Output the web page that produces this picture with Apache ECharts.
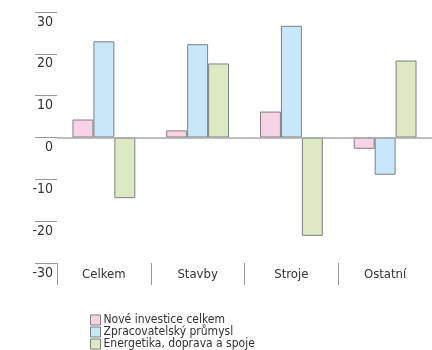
<!DOCTYPE html>
<html>
<head>
<meta charset="utf-8">
<script src="https://cdn.jsdelivr.net/npm/echarts@6/dist/echarts.min.js"></script>
<style>
  html, body { margin: 0; padding: 0; background: #fff; }
  #chart { width: 432px; height: 350px; }
</style>
</head>
<body>
<div id="chart"></div>
<script>
// Sectors on the category axis
const categories = ['Celkem', 'Stavby', 'Stroje', 'Ostatní'];

// Series names (legend) and their values per sector
const seriesNames = ['Nové investice celkem', 'Zpracovatelský průmysl', 'Energetika, doprava a spoje'];
const noveInvestice = [4.3, 1.7, 6.2, -2.7];
const zpracovatelsky = [23.0, 22.3, 26.7, -8.9];
const energetika = [-14.5, 17.7, -23.5, 18.4];

// Value axis range and step
const yMin = -30, yMax = 30, yStep = 10;

const FONT = '"DejaVu Sans Condensed", "Liberation Sans Narrow", "Noto Sans", sans-serif';
const colors = ['#f8d3e6', '#c6e8f8', '#dce9c2'];
const values = [noveInvestice, zpracovatelsky, energetika];

const chart = echarts.init(document.getElementById('chart'), null, { renderer: 'canvas' });

const series = seriesNames.map((name, i) => ({
  name: name,
  type: 'bar',
  data: values[i],
  barGap: '0%',
  barCategoryGap: '33%',
  itemStyle: { color: colors[i], borderColor: '#7f7f7f', borderWidth: 1 }
}));

// Zero reference line across the plot
series[0].markLine = {
  silent: true,
  symbol: 'none',
  label: { show: false },
  lineStyle: { color: '#aaaaaa', type: 'solid', width: 1.5 },
  data: [{ yAxis: 0 }],
  animation: false
};

chart.setOption({
  animation: false,
  grid: { left: 57, top: 12, width: 376, height: 251, containLabel: false },
  xAxis: {
    type: 'category',
    data: categories,
    position: 'bottom',
    axisLine: { show: false, onZero: false },
    axisTick: { show: true, alignWithLabel: false, length: 22, lineStyle: { color: '#999999', width: 1 } },
    axisLabel: { color: '#333333', fontFamily: FONT, fontSize: 13, margin: 5 },
    splitLine: { show: false }
  },
  yAxis: {
    type: 'value',
    min: yMin,
    max: yMax,
    interval: yStep,
    axisLine: { show: false },
    axisTick: { show: true, length: 22, lineStyle: { color: '#999999', width: 1 } },
    axisLabel: {
      color: '#333333', fontFamily: FONT, fontSize: 14,
      margin: 4, align: 'right', verticalAlign: 'top', padding: [3, 0, 0, 0]
    },
    splitLine: { show: false }
  },
  legend: {
    orient: 'vertical',
    left: 90,
    top: 314,
    height: 40,
    padding: 0,
    itemWidth: 10,
    itemHeight: 10,
    itemGap: 0,
    icon: 'rect',
    selectedMode: false,
    itemStyle: { borderColor: '#7f7f7f', borderWidth: 1 },
    textStyle: { color: '#333333', fontFamily: FONT, fontSize: 12, padding: [0, 0, 0, -2], lineHeight: 11 },
    data: seriesNames
  },
  series: series
});
</script>
</body>
</html>
